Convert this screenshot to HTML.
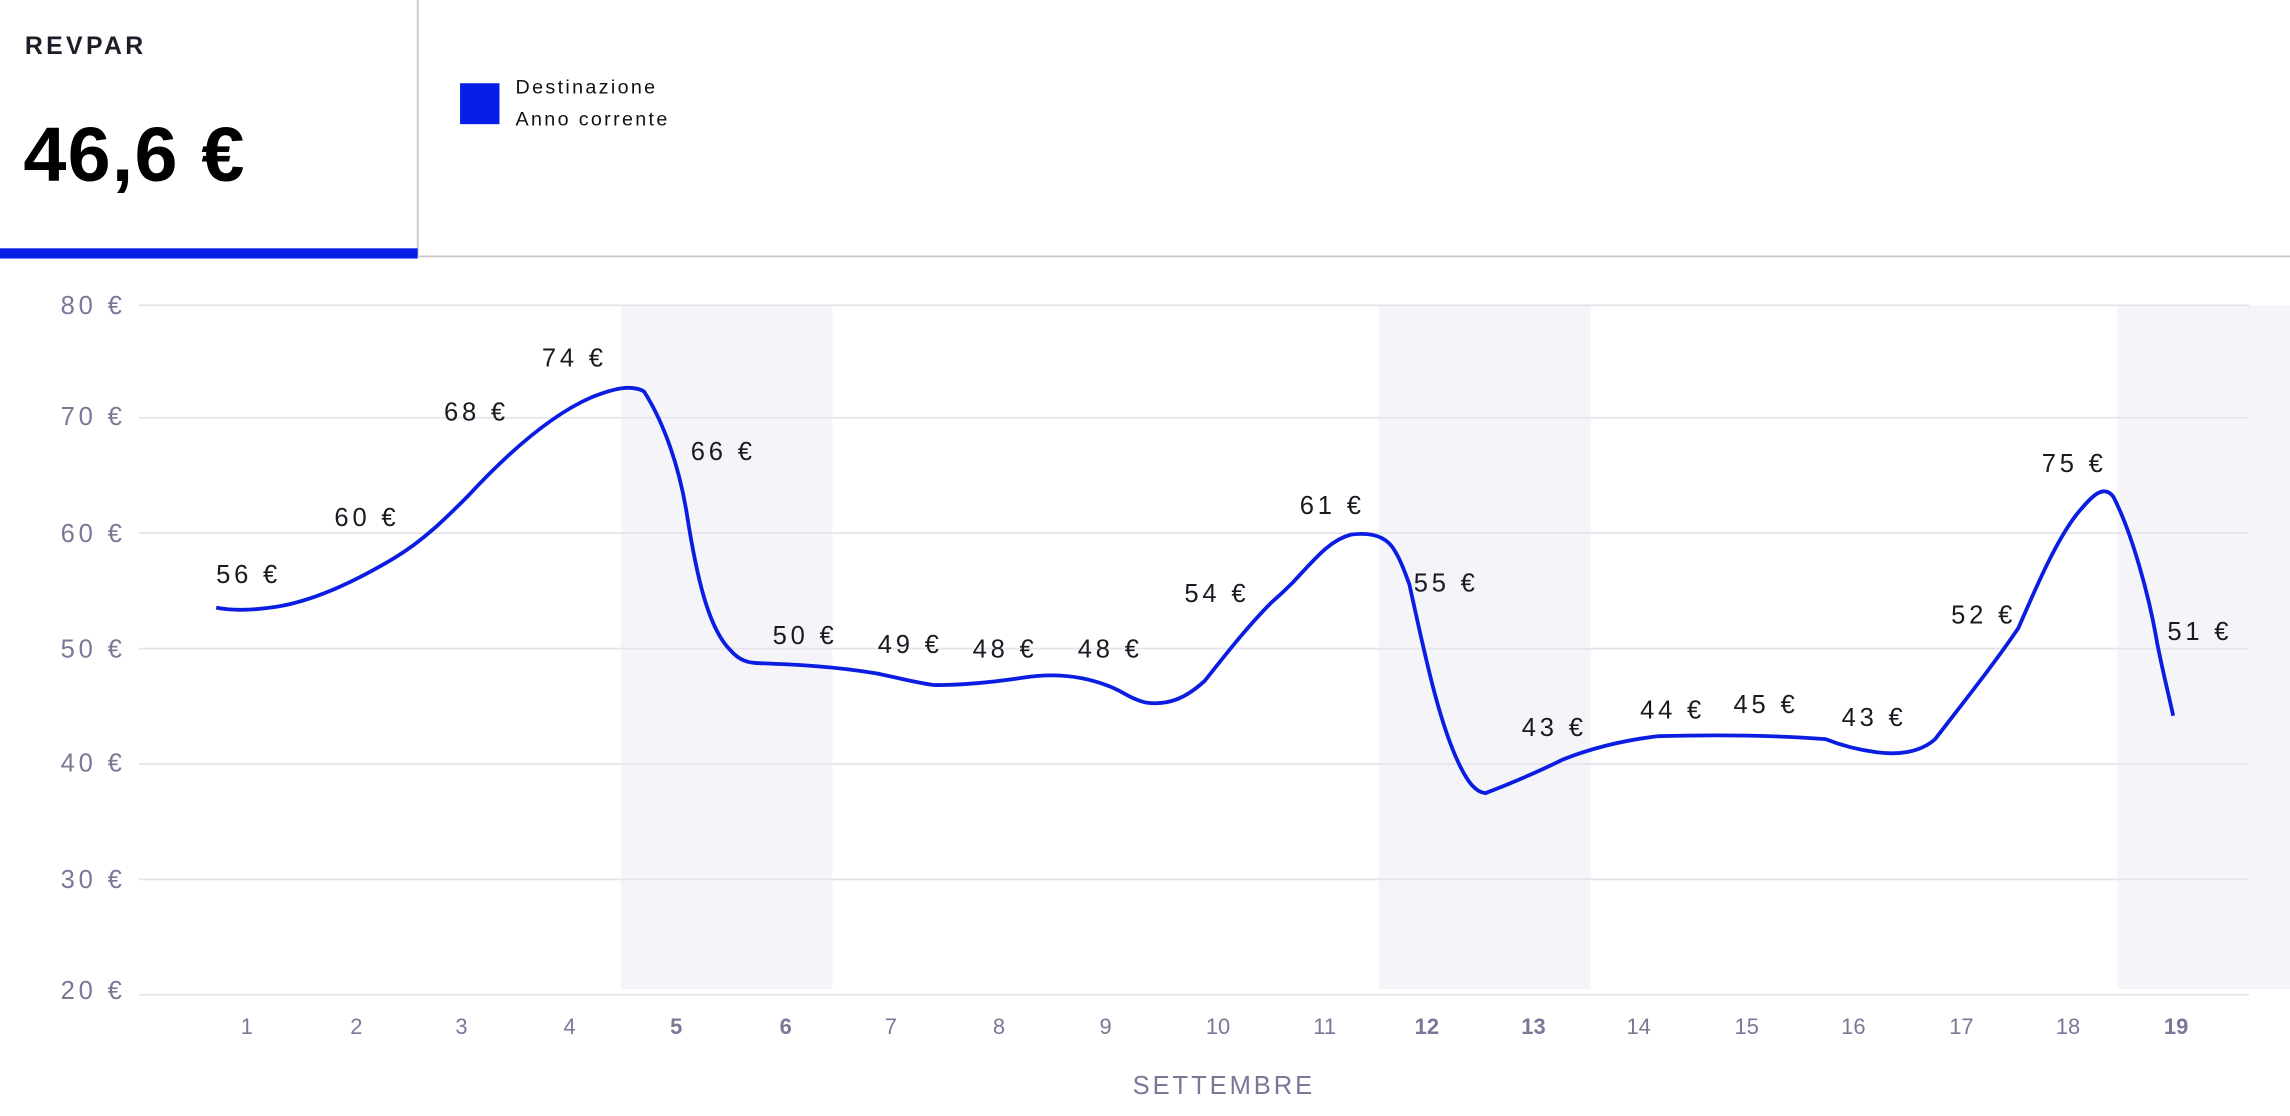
<!DOCTYPE html>
<html><head><meta charset="utf-8"><style>
html,body{margin:0;padding:0;background:#fff;width:2290px;height:1116px;overflow:hidden}
svg{display:block}
</style></head><body>
<svg width="2290" height="1116" viewBox="0 0 1568 764" preserveAspectRatio="none" xmlns="http://www.w3.org/2000/svg" font-family="Liberation Sans, sans-serif">
<!-- header -->
<text x="17" y="37" font-size="17" font-weight="bold" fill="#1e1e28" letter-spacing="2.3">REVPAR</text>
<text x="16" y="124" font-size="53" font-weight="bold" fill="#000" letter-spacing="0.8">46,6 €</text>
<line x1="286" y1="0" x2="286" y2="176" stroke="#c8c8c8" stroke-width="1.2"/>
<rect x="0" y="170" width="286" height="7" fill="#061ee6"/>
<line x1="286" y1="175.5" x2="1568" y2="175.5" stroke="#c8c8c8" stroke-width="1.2"/>
<rect x="315" y="57" width="27" height="28" fill="#061ee6"/>
<text x="353" y="64" font-size="13.5" fill="#111" letter-spacing="1.6">Destinazione</text>
<text x="353" y="86" font-size="13.5" fill="#111" letter-spacing="1.6">Anno corrente</text>
<!-- bands -->
<g fill="#f4f4f9">
<rect x="425" y="209" width="145" height="468"/>
<rect x="944" y="209" width="145" height="468"/>
<rect x="1450" y="209" width="118" height="468"/>
</g>
<!-- grid -->
<g stroke="#e4e4ea" stroke-width="1.2">
<line x1="95" y1="209" x2="1540" y2="209"/>
<line x1="95" y1="286" x2="1540" y2="286"/>
<line x1="95" y1="365" x2="1540" y2="365"/>
<line x1="95" y1="444" x2="1540" y2="444"/>
<line x1="95" y1="523" x2="1540" y2="523"/>
<line x1="95" y1="602" x2="1540" y2="602"/>
<line x1="95" y1="681" x2="1540" y2="681"/>
</g>
<g font-size="17.5" fill="#7a7896" text-anchor="end" letter-spacing="2.6">
<text x="86" y="215">80 €</text>
<text x="86" y="291">70 €</text>
<text x="86" y="371">60 €</text>
<text x="86" y="450">50 €</text>
<text x="86" y="528">40 €</text>
<text x="86" y="608">30 €</text>
<text x="86" y="684">20 €</text>
</g>
<g font-size="15" fill="#7a7896" text-anchor="middle">
<text x="169" y="708">1</text><text x="244" y="708">2</text><text x="316" y="708">3</text><text x="390" y="708">4</text>
<text x="463" y="708" font-weight="bold">5</text><text x="538" y="708" font-weight="bold">6</text>
<text x="610" y="708">7</text><text x="684" y="708">8</text><text x="757" y="708">9</text><text x="834" y="708">10</text><text x="907" y="708">11</text>
<text x="977" y="708" font-weight="bold">12</text><text x="1050" y="708" font-weight="bold">13</text>
<text x="1122" y="708">14</text><text x="1196" y="708">15</text><text x="1269" y="708">16</text><text x="1343" y="708">17</text><text x="1416" y="708">18</text>
<text x="1490" y="708" font-weight="bold">19</text>
<text x="838" y="749" font-size="17.5" letter-spacing="2">SETTEMBRE</text>
</g>
<path fill="none" stroke="#0a1de0" stroke-width="2.6" stroke-linejoin="round" d="M148,416 C158,418 170,418 185,416 C210,413 240,400 270,382 C290,370 305,355 320,340 C345,313 375,285 405,272 C420,266 432,263 441,268 C455,290 465,320 470,350 C477,395 485,430 500,445 C506,452 512,454 520,454 C545,455 570,456 600,461 C615,464 630,468 640,469 C660,469 680,467 700,464 C725,460 745,464 760,470 C770,474 775,479 785,481 C800,483 812,478 825,466 C840,447 855,428 870,413 C878,406 880,404 885,399 C900,383 910,370 925,366 C940,364 950,368 955,377 C960,385 963,395 965,400 C975,445 985,495 1000,525 C1005,535 1010,542 1017,543 C1030,538 1050,530 1070,520 C1090,512 1110,507 1135,504 C1170,503 1210,503 1250,506 C1260,510 1270,513 1285,515 C1300,517 1315,515 1325,506 C1345,480 1365,455 1382,430 C1395,400 1408,370 1422,352 C1432,340 1440,331 1447,340 C1460,365 1472,410 1477,440 C1482,465 1486,480 1488,490"/>
<g font-size="17.5" fill="#1a1a22" letter-spacing="2.6">
<text x="148" y="399">56 €</text><text x="229" y="360">60 €</text><text x="304" y="288">68 €</text><text x="371" y="251">74 €</text>
<text x="473" y="315">66 €</text><text x="529" y="441">50 €</text><text x="601" y="447">49 €</text><text x="666" y="450">48 €</text>
<text x="738" y="450">48 €</text><text x="811" y="412">54 €</text><text x="890" y="352">61 €</text><text x="968" y="405">55 €</text>
<text x="1042" y="504">43 €</text><text x="1123" y="492">44 €</text><text x="1187" y="488">45 €</text><text x="1261" y="497">43 €</text>
<text x="1336" y="427">52 €</text><text x="1398" y="323">75 €</text><text x="1484" y="438">51 €</text>
</g>
</svg>
</body></html>
